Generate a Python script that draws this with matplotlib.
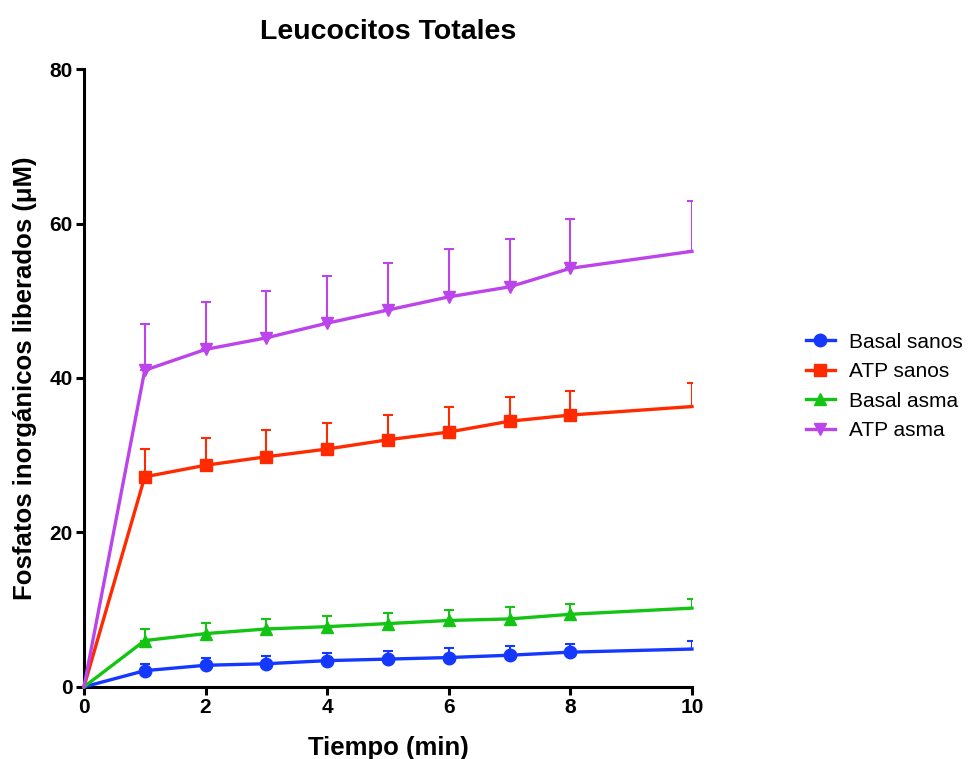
import numpy as np
from matplotlib import pyplot as plt

plt.rcParams['font.family'] = ['Liberation Sans', 'DejaVu Sans']

tiempo = [0, 1, 2, 3, 4, 5, 6, 7, 8, 10]

basal_sanos = [0, 2.1, 2.8, 3.0, 3.4, 3.6, 3.8, 4.1, 4.5, 4.9]
basal_sanos_top = [0, 3.0, 3.8, 4.0, 4.4, 4.7, 5.0, 5.3, 5.6, 6.0]

atp_sanos = [0, 27.2, 28.7, 29.8, 30.8, 32.0, 33.0, 34.4, 35.2, 36.3]
atp_sanos_top = [0, 30.8, 32.2, 33.3, 34.2, 35.2, 36.2, 37.5, 38.3, 39.4]

basal_asma = [0, 6.0, 6.9, 7.5, 7.8, 8.2, 8.6, 8.8, 9.4, 10.2]
basal_asma_top = [0, 7.5, 8.3, 8.8, 9.2, 9.6, 9.9, 10.3, 10.7, 11.4]

atp_asma = [0, 41.0, 43.7, 45.2, 47.1, 48.8, 50.5, 51.8, 54.2, 56.4]
atp_asma_top = [0, 47.0, 49.8, 51.3, 53.2, 54.9, 56.7, 58.0, 60.6, 62.9]

series = [
    ("Basal sanos", basal_sanos, basal_sanos_top, "#1438ff", "o", 9),
    ("ATP sanos", atp_sanos, atp_sanos_top, "#ff2a00", "s", 8.5),
    ("Basal asma", basal_asma, basal_asma_top, "#14c414", "^", 9),
    ("ATP asma", atp_asma, atp_asma_top, "#bb44ea", "v", 9),
]

fig = plt.figure(figsize=(9.76, 7.59), dpi=100)
ax = fig.add_axes([0.086, 0.095, 0.623, 0.814])

for name, y, top, c, m, ms in series:
    y = np.array(y)
    err = np.array(top) - y
    ax.errorbar(tiempo[1:], y[1:], yerr=[np.zeros(len(y) - 1), err[1:]], fmt="none",
                ecolor=c, elinewidth=1.5, capsize=3.5, capthick=1.5, zorder=2)
    ax.plot(tiempo, y, color=c, lw=2.4, marker=m, ms=ms, markevery=list(range(1, 9)),
            label=name, zorder=3, clip_on=False)

ax.set_xlim(0, 10)
ax.set_ylim(0, 80)
ax.set_xticks([0, 2, 4, 6, 8, 10])
ax.set_yticks([0, 20, 40, 60, 80])
for s in ["top", "right"]:
    ax.spines[s].set_visible(False)
for s in ["left", "bottom"]:
    ax.spines[s].set_linewidth(2.2)
ax.tick_params(width=2.2, length=6, labelsize=15, pad=2)
for lab in ax.get_xticklabels() + ax.get_yticklabels():
    lab.set_fontweight("bold")

ax.set_title("Leucocitos Totales", fontsize=20.5, fontweight="bold", pad=22)
ax.set_xlabel("Tiempo (min)", fontsize=18.5, fontweight="bold", labelpad=14)
ax.set_ylabel("Fosfatos inorgánicos liberados (μM)", fontsize=18.5, fontweight="bold", labelpad=9)

fig.legend(loc="center left", bbox_to_anchor=(0.807, 0.491), frameon=False, fontsize=15,
           handlelength=1.35, labelspacing=0.5, handletextpad=0.7)

fig.savefig("out.png", dpi=100)
